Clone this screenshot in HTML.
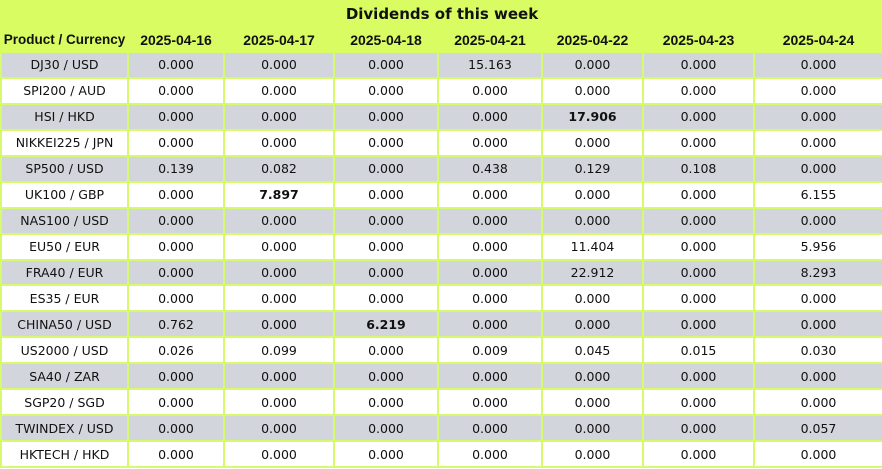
<!DOCTYPE html>
<html><head><style>
body{margin:0;width:882px;height:469px;overflow:hidden;background:#fff;font-family:"DejaVu Sans","Liberation Sans",sans-serif;}
table{border-collapse:collapse;table-layout:fixed;width:882px;position:absolute;left:0;top:0;}
td{border:2px solid #d6fa6c;text-align:center;font-size:12.5px;color:#111;padding:0;height:23.95px;white-space:nowrap;overflow:hidden;}
tr.h td{background:#d8fc62;font-weight:bold;border-color:#d8fc62;height:23px;font-family:"Liberation Sans",sans-serif;font-size:14px;}
tr.t td{background:#d8fc62;font-weight:bold;font-size:15px;border-color:#d8fc62;height:24px;}
tr.g td{background:#d3d5dc;}
b{font-weight:bold;}
</style></head><body>
<table>
<colgroup><col style="width:127px"><col style="width:96px"><col style="width:110px"><col style="width:104px"><col style="width:104px"><col style="width:101px"><col style="width:111px"><col style="width:129px"></colgroup>
<tr class="t"><td colspan="8">Dividends of this week</td></tr>
<tr class="h"><td style="font-size:13.5px">Product / Currency</td><td>2025-04-16</td><td>2025-04-17</td><td>2025-04-18</td><td>2025-04-21</td><td>2025-04-22</td><td>2025-04-23</td><td>2025-04-24</td></tr>
<tr class="g"><td>DJ30 / USD</td><td>0.000</td><td>0.000</td><td>0.000</td><td>15.163</td><td>0.000</td><td>0.000</td><td>0.000</td></tr>
<tr><td>SPI200 / AUD</td><td>0.000</td><td>0.000</td><td>0.000</td><td>0.000</td><td>0.000</td><td>0.000</td><td>0.000</td></tr>
<tr class="g"><td>HSI / HKD</td><td>0.000</td><td>0.000</td><td>0.000</td><td>0.000</td><td><b>17.906</b></td><td>0.000</td><td>0.000</td></tr>
<tr><td>NIKKEI225 / JPN</td><td>0.000</td><td>0.000</td><td>0.000</td><td>0.000</td><td>0.000</td><td>0.000</td><td>0.000</td></tr>
<tr class="g"><td>SP500 / USD</td><td>0.139</td><td>0.082</td><td>0.000</td><td>0.438</td><td>0.129</td><td>0.108</td><td>0.000</td></tr>
<tr><td>UK100 / GBP</td><td>0.000</td><td><b>7.897</b></td><td>0.000</td><td>0.000</td><td>0.000</td><td>0.000</td><td>6.155</td></tr>
<tr class="g"><td>NAS100 / USD</td><td>0.000</td><td>0.000</td><td>0.000</td><td>0.000</td><td>0.000</td><td>0.000</td><td>0.000</td></tr>
<tr><td>EU50 / EUR</td><td>0.000</td><td>0.000</td><td>0.000</td><td>0.000</td><td>11.404</td><td>0.000</td><td>5.956</td></tr>
<tr class="g"><td>FRA40 / EUR</td><td>0.000</td><td>0.000</td><td>0.000</td><td>0.000</td><td>22.912</td><td>0.000</td><td>8.293</td></tr>
<tr><td>ES35 / EUR</td><td>0.000</td><td>0.000</td><td>0.000</td><td>0.000</td><td>0.000</td><td>0.000</td><td>0.000</td></tr>
<tr class="g"><td>CHINA50 / USD</td><td>0.762</td><td>0.000</td><td><b>6.219</b></td><td>0.000</td><td>0.000</td><td>0.000</td><td>0.000</td></tr>
<tr><td>US2000 / USD</td><td>0.026</td><td>0.099</td><td>0.000</td><td>0.009</td><td>0.045</td><td>0.015</td><td>0.030</td></tr>
<tr class="g"><td>SA40 / ZAR</td><td>0.000</td><td>0.000</td><td>0.000</td><td>0.000</td><td>0.000</td><td>0.000</td><td>0.000</td></tr>
<tr><td>SGP20 / SGD</td><td>0.000</td><td>0.000</td><td>0.000</td><td>0.000</td><td>0.000</td><td>0.000</td><td>0.000</td></tr>
<tr class="g"><td>TWINDEX / USD</td><td>0.000</td><td>0.000</td><td>0.000</td><td>0.000</td><td>0.000</td><td>0.000</td><td>0.057</td></tr>
<tr><td>HKTECH / HKD</td><td>0.000</td><td>0.000</td><td>0.000</td><td>0.000</td><td>0.000</td><td>0.000</td><td>0.000</td></tr>
</table>
</body></html>
